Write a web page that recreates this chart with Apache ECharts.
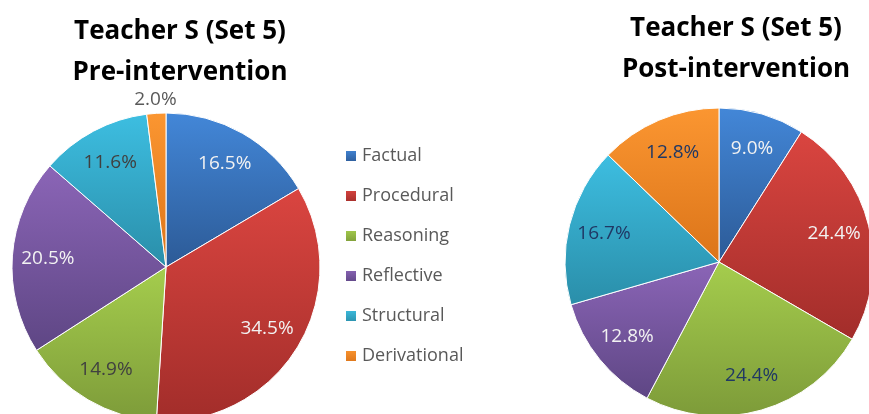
<!DOCTYPE html>
<html>
<head>
<meta charset="utf-8">
<script src="https://cdn.jsdelivr.net/npm/echarts@6/dist/echarts.min.js"></script>
<style>
  html, body { margin: 0; padding: 0; background: #fff; }
  #chart { width: 869px; height: 414px; }
</style>
</head>
<body>
<div id="chart"></div>
<script>
// question categories
var categories = ['Factual', 'Procedural', 'Reasoning', 'Reflective', 'Structural', 'Derivational']
// percentages per set
var preValues = [16.5, 34.5, 14.9, 20.5, 11.6, 2.0]
var postValues = [9.0, 24.4, 24.4, 12.8, 16.7, 12.8]
var titles = ['Teacher S (Set 5)\nPre-intervention', 'Teacher S (Set 5)\nPost-intervention']

// excel-ish gradient colours (top, bottom)
var palette = [
  ['#4387d8', '#2c5a96'],
  ['#da4540', '#a22d2a'],
  ['#a5cd4d', '#7d9b39'],
  ['#8b65b7', '#5e4684'],
  ['#3dbee1', '#2a8ea9'],
  ['#fb9631', '#db7419']
]
var preLabelColor = ['#f2f2f2', '#f2f2f2', '#404040', '#f2f2f2', '#404040', '#595959']
var postLabelColor = ['#f2f2f2', '#f2f2f2', '#203864', '#f2f2f2', '#203864', '#203864']

function grad(c) {
  return new echarts.graphic.LinearGradient(0, 0, 0, 1, [
    { offset: 0, color: c[0] },
    { offset: 1, color: c[1] }
  ])
}

var chart = echarts.init(document.getElementById('chart'))

function pieSeries(values, center, labelColors) {
  var R = 154
  var fmt = function(p) { return p.value.toFixed(1) + '%' }
  var base = {
    type: 'pie',
    center: center,
    startAngle: 90,
    clockwise: true,
    animation: false,
    silent: true,
    labelLine: { show: false }
  }
  // visible slices
  var main = Object.assign({}, base, {
    radius: [0, R],
    itemStyle: { borderColor: '#fff', borderWidth: 1 },
    label: { show: false },
    data: categories.map(function(name, i) {
      return { name: name, value: values[i], itemStyle: { color: grad(palette[i]) } }
    })
  })
  // transparent rings, only used to put labels at a given distance from centre
  function labelRing(scale, pick) {
    return Object.assign({}, base, {
      radius: [0, R * scale],
      legendHoverLink: false,
      itemStyle: { color: 'rgba(0,0,0,0)' },
      label: { position: 'inside', formatter: fmt, fontSize: 19, fontFamily: 'Open Sans' },
      data: categories.map(function(name, i) {
        return {
          name: name + ' ',
          value: values[i],
          label: { show: pick(values[i]), color: labelColors[i] }
        }
      })
    })
  }
  return [
    main,
    labelRing(1.5, function(v) { return v >= 5 }),
    labelRing(2.14, function(v) { return v < 5 })
  ]
}

var titleStyle = { fontFamily: 'Open Sans', fontSize: 26, fontWeight: 'bold', color: '#000', lineHeight: 41 }

chart.setOption({
  backgroundColor: '#fff',
  title: [
    { text: titles[0], left: 175, top: 6, textAlign: 'center', textStyle: titleStyle },
    { text: titles[1], left: 731, top: 3, textAlign: 'center', textStyle: titleStyle }
  ],
  legend: {
    orient: 'vertical',
    left: 339,
    top: 141,
    itemWidth: 12,
    itemHeight: 12,
    itemGap: 20,
    icon: 'rect',
    data: categories,
    textStyle: { fontFamily: 'Open Sans', fontSize: 18, color: '#595959', lineHeight: 20 }
  },
  series: pieSeries(preValues, [166, 267], preLabelColor)
    .concat(pieSeries(postValues, [719, 262], postLabelColor))
})
</script>
</body>
</html>
